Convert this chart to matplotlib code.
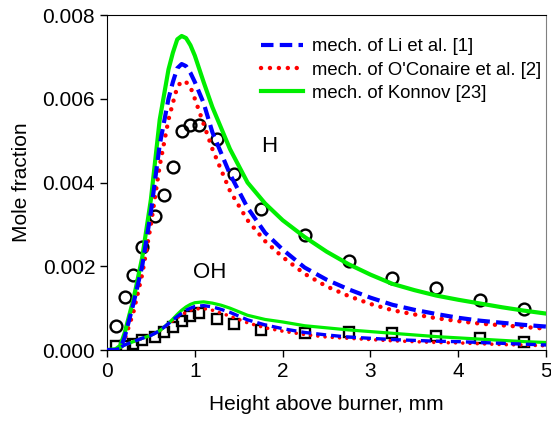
import matplotlib
matplotlib.use("Agg")
import matplotlib.pyplot as plt
from matplotlib.ticker import FormatStrFormatter

plt.rcParams['font.family'] = ['Liberation Sans', 'DejaVu Sans']

# experimental points
x_exp = [0.1, 0.2, 0.3, 0.4, 0.55, 0.65, 0.75, 0.85, 0.95, 1.05, 1.25, 1.45,
         1.75, 2.25, 2.75, 3.25, 3.75, 4.25, 4.75]
h_exp = [0.00058, 0.00127, 0.00179, 0.00245, 0.0032, 0.00371, 0.00438, 0.00524,
         0.00538, 0.00538, 0.00505, 0.00421, 0.00336, 0.00275, 0.00213, 0.00171,
         0.00147, 0.00119, 0.00098]
oh_exp = [0.0001, 0.0001, 0.00015, 0.00023, 0.0003, 0.00042, 0.00055, 0.0007,
          0.00081, 0.00088, 0.00073, 0.00061, 0.00049, 0.00041, 0.00044, 0.0004,
          0.00034, 0.00029, 0.0002]

# model curves
x_mod = [0, 0.1, 0.15, 0.2, 0.3, 0.4, 0.5, 0.6, 0.7, 0.75, 0.8, 0.85, 0.9, 0.95,
         1.0, 1.1, 1.2, 1.3, 1.4, 1.6, 1.8, 2.0, 2.25, 2.5, 2.75, 3.0, 3.25, 3.5,
         3.75, 4.0, 4.25, 4.5, 4.75, 5.0]

h_li = [0, 0, 0.00003, 0.0003, 0.0011, 0.002, 0.0033, 0.0049, 0.006, 0.0064,
        0.00673, 0.00683, 0.00678, 0.00662, 0.0064, 0.0059, 0.0052, 0.0047, 0.0042,
        0.0034, 0.0028, 0.0024, 0.00197, 0.00168, 0.00145, 0.00125, 0.00108,
        0.00096, 0.00086, 0.00077, 0.0007, 0.00065, 0.0006, 0.00056]
h_oc = [0, 0, 0.00002, 0.00025, 0.0009, 0.0018, 0.003, 0.0044, 0.0055, 0.0059,
        0.00628, 0.00642, 0.0064, 0.00628, 0.006, 0.0054, 0.0048, 0.0043, 0.0038,
        0.0031, 0.0026, 0.00222, 0.00182, 0.00152, 0.00129, 0.0011, 0.00095,
        0.00085, 0.00076, 0.00069, 0.00063, 0.00059, 0.00055, 0.00051]
h_ko = [0, 0.00002, 0.0001, 0.0004, 0.0012, 0.0022, 0.0036, 0.0055, 0.0067, 0.0071,
        0.00742, 0.0075, 0.00745, 0.00728, 0.00703, 0.0064, 0.0058, 0.0053, 0.0048,
        0.004, 0.0035, 0.0031, 0.0027, 0.00235, 0.00205, 0.0018, 0.00158,
        0.00143, 0.0013, 0.0012, 0.00111, 0.00102, 0.00094, 0.00087]

oh_li = [0, 0.00001, 0.00006, 0.00012, 0.0002, 0.00028, 0.00035, 0.00046, 0.00063,
         0.00072, 0.0008, 0.00088, 0.00095, 0.001, 0.00104, 0.00106, 0.00103,
         0.00097, 0.0009, 0.00072, 0.0006, 0.00051, 0.00042, 0.00036, 0.00031,
         0.00028, 0.00025, 0.00023, 0.00021, 0.0002, 0.00018, 0.00016, 0.00014,
         0.00012]
oh_oc = [0, 0.00001, 0.00006, 0.00012, 0.0002, 0.00028, 0.00035, 0.00046, 0.00062,
         0.0007, 0.00077, 0.00084, 0.0009, 0.00095, 0.00098, 0.00099, 0.00095,
         0.00088, 0.00081, 0.00065, 0.00053, 0.00045, 0.00037, 0.00031, 0.00028,
         0.00025, 0.00022, 0.0002, 0.00018, 0.00017, 0.00015, 0.00013, 0.00012,
         0.0001]
oh_ko = [0, 0.00001, 0.00006, 0.00012, 0.0002, 0.00028, 0.00035, 0.00046, 0.00064,
         0.00074, 0.00085, 0.00095, 0.00103, 0.00109, 0.00113, 0.00115, 0.00112,
         0.00107, 0.001, 0.00083, 0.00073, 0.00067, 0.00058, 0.00053, 0.00048,
         0.00044, 0.0004, 0.00036, 0.00032, 0.00029, 0.00026, 0.00023, 0.0002,
         0.00018]

fig = plt.figure(figsize=(5.51, 4.30), dpi=100)
ax = fig.add_axes([0.1942, 0.186, 0.797, 0.779])

ax.plot(x_exp, h_exp, 'o', mfc='none', mec='k', ms=8.5, mew=1.7, zorder=2)
ax.plot(x_exp, oh_exp, 's', mfc='none', mec='k', ms=7.5, mew=1.7, zorder=2)

dash = (0, (3.0, 1.5))
dots = (0, (0.01, 2.0))
ax.plot(x_mod, h_li, color='blue', lw=3.0, ls=dash, zorder=4, label='mech. of Li et al. [1]')
ax.plot(x_mod, h_oc, color='red', lw=3.2, ls=dots, dash_capstyle='round', zorder=3,
        label="mech. of O'Conaire et al. [2]")
ax.plot(x_mod, h_ko, color='#00ee00', lw=3.0, zorder=3, label='mech. of Konnov [23]')
ax.plot(x_mod, oh_li, color='blue', lw=2.4, ls=dash, zorder=4)
ax.plot(x_mod, oh_oc, color='red', lw=2.6, ls=dots, dash_capstyle='round', zorder=3)
ax.plot(x_mod, oh_ko, color='#00ee00', lw=2.3, zorder=3)

ax.text(1.845, 0.00486, 'H', fontsize=16, ha='center', va='center')
ax.text(1.17, 0.00186, 'OH', fontsize=16, ha='center', va='center')

ax.set_xlim(0, 5)
ax.set_ylim(0, 0.008)
ax.set_xticks([0, 1, 2, 3, 4, 5])
ax.set_yticks([0, 0.002, 0.004, 0.006, 0.008])
ax.yaxis.set_major_formatter(FormatStrFormatter('%.3f'))
ax.tick_params(direction='out', length=5, labelsize=15, width=1)
ax.spines['right'].set_color('gray')
ax.set_xlabel('Height above burner, mm', fontsize=15, labelpad=10)
ax.set_ylabel('Mole fraction', fontsize=15, labelpad=8)

ax.legend(loc='upper left', bbox_to_anchor=(0.35, 0.93), frameon=False, fontsize=13.3,
          handlelength=2.3, handletextpad=0.5, labelspacing=0.33, borderpad=0,
          borderaxespad=0)

plt.savefig('out.png', dpi=100)
